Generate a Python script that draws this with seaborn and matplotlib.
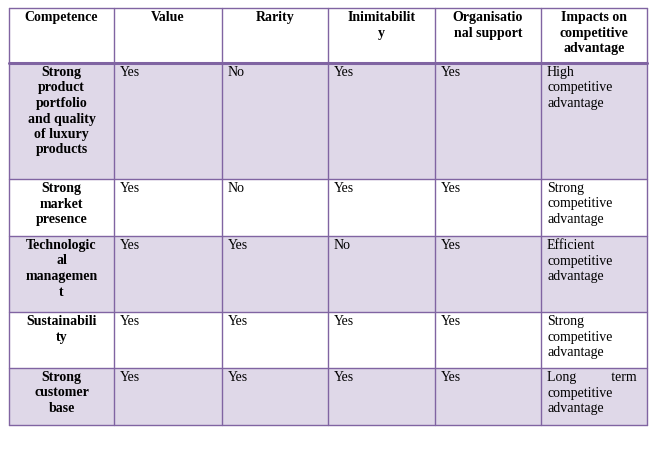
import matplotlib.pyplot as plt
import seaborn as sns

sns.set_theme(style='white')

# ---- table content ----
headers = ['Competence', 'Value', 'Rarity', 'Inimitabilit\ny',
           'Organisatio\nnal support', 'Impacts on\ncompetitive\nadvantage']
competences = ['Strong\nproduct\nportfolio\nand quality\nof luxury\nproducts',
               'Strong\nmarket\npresence',
               'Technologic\nal\nmanagemen\nt',
               'Sustainabili\nty',
               'Strong\ncustomer\nbase']
value = ['Yes', 'Yes', 'Yes', 'Yes', 'Yes']
rarity = ['No', 'No', 'Yes', 'Yes', 'Yes']
inimitability = ['Yes', 'Yes', 'No', 'Yes', 'Yes']
org_support = ['Yes', 'Yes', 'Yes', 'Yes', 'Yes']
impacts = ['High\ncompetitive\nadvantage', 'Strong\ncompetitive\nadvantage',
           'Efficient\ncompetitive\nadvantage', 'Strong\ncompetitive\nadvantage',
           'Long          term\ncompetitive\nadvantage']

# layout in pixels
col_x = [9, 114, 222, 328, 435, 541, 647]
row_y = [8, 63, 179, 236, 312, 368, 425]
fill_rows = [0, 2, 4]
border = '#8064A2'
shade = '#DFD8E8'
font = 'Liberation Serif'

fig = plt.figure(figsize=(6.53, 4.51), dpi=100)
ax = fig.add_axes([0, 0, 1, 1])
ax.set_xlim(0, 653)
ax.set_ylim(451, 0)
ax.axis('off')

for r in fill_rows:
    y0, y1 = row_y[r + 1], row_y[r + 2]
    ax.fill_between([col_x[0], col_x[-1]], y0, y1, color=shade, lw=0)

for x in col_x:
    ax.plot([x, x], [row_y[0], row_y[-1]], color=border, lw=1)
for i, y in enumerate(row_y):
    ax.plot([col_x[0], col_x[-1]], [y, y], color=border, lw=2.2 if i == 1 else 1)

kw = dict(fontsize=10, family=font, va='top', linespacing=1.25, color='black')
for j, h in enumerate(headers):
    ax.text((col_x[j] + col_x[j + 1]) / 2, row_y[0] + 3, h, ha='center',
            fontweight='bold', **kw)

cols = [value, rarity, inimitability, org_support, impacts]
for i, comp in enumerate(competences):
    ytop = row_y[i + 1] + 3
    ax.text((col_x[0] + col_x[1]) / 2, ytop, comp, ha='center', fontweight='bold', **kw)
    for j, col in enumerate(cols):
        ax.text(col_x[j + 1] + 6, ytop, col[i], ha='left', **kw)

fig.savefig('out.png', dpi=100)
